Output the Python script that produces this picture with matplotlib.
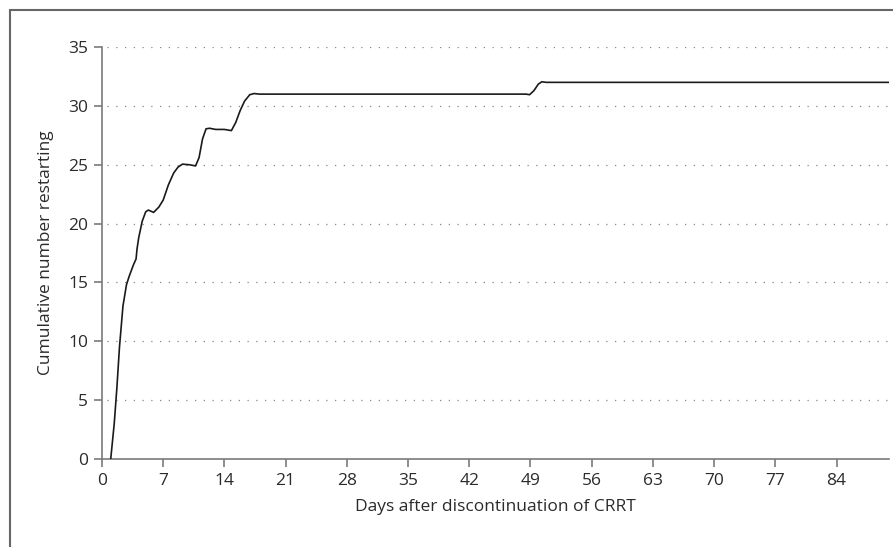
import matplotlib
matplotlib.use("Agg")
import matplotlib.pyplot as plt
from matplotlib.patches import Rectangle

# (days, cumulative number)
days = [1.0, 1.4, 1.7, 2.0, 2.4, 2.8, 3.1, 3.6, 3.9, 4.0, 4.2, 4.6, 5.0, 5.3,
        5.9, 6.5, 7.0, 7.6, 8.2, 8.7, 9.2, 10.0, 10.7, 11.1, 11.5, 11.9, 12.3,
        13.0, 14.0, 14.8, 15.3, 15.8, 16.3, 16.9, 17.4, 18.0, 48.5, 48.9, 49.4,
        49.9, 50.3, 50.8, 90.0]
restarting = [0, 3, 6, 9.5, 13, 14.8, 15.5, 16.5, 17.0, 17.8, 18.8, 20.2, 21.0,
              21.15, 20.95, 21.4, 22.0, 23.3, 24.3, 24.8, 25.05, 25.0, 24.9,
              25.6, 27.2, 28.05, 28.1, 28.0, 28.0, 27.9, 28.6, 29.6, 30.4,
              30.95, 31.05, 31.0, 31.0, 30.95, 31.3, 31.85, 32.05, 32.0, 32.0]

xticks = list(range(0, 85, 7))
yticks = list(range(0, 36, 5))

plt.rcParams['font.family'] = ['Open Sans', 'DejaVu Sans']
txt = '#2b2b2b'
axc = '#7a7a7a'

fig = plt.figure(figsize=(8.93, 5.47), dpi=100)
ax = fig.add_axes([0.1142, 0.1609, 0.8813, 0.7531])

# frame around the figure (runs off right and bottom)
fig.patches.append(Rectangle((10 / 893, -0.2), 1.2, 1.2 - 10 / 547,
                             transform=fig.transFigure, fill=False,
                             edgecolor='#666666', lw=1.5, clip_on=False))

for y in yticks[1:]:
    ax.axhline(y, xmin=0.007, color='#888888', lw=0.9, ls=(0, (1, 6)), zorder=1)

ax.plot(days, restarting, color='#1a1a1a', lw=1.2, zorder=3)

ax.set_xlim(0, 90)
ax.set_ylim(0, 35)
ax.set_xticks(xticks)
ax.set_yticks(yticks)
for s in ['top', 'right']:
    ax.spines[s].set_visible(False)
for s in ['left', 'bottom']:
    ax.spines[s].set_color(axc)
    ax.spines[s].set_linewidth(1.2)
ax.tick_params(colors=axc, labelcolor=txt, labelsize=12.5, length=6, width=1.2, pad=4)

ax.set_xlabel('Days after discontinuation of CRRT', fontsize=12.5, color=txt, labelpad=7)
ax.set_ylabel('Cumulative number restarting', fontsize=12.5, color=txt, labelpad=10)

fig.savefig('out.png', dpi=100)
